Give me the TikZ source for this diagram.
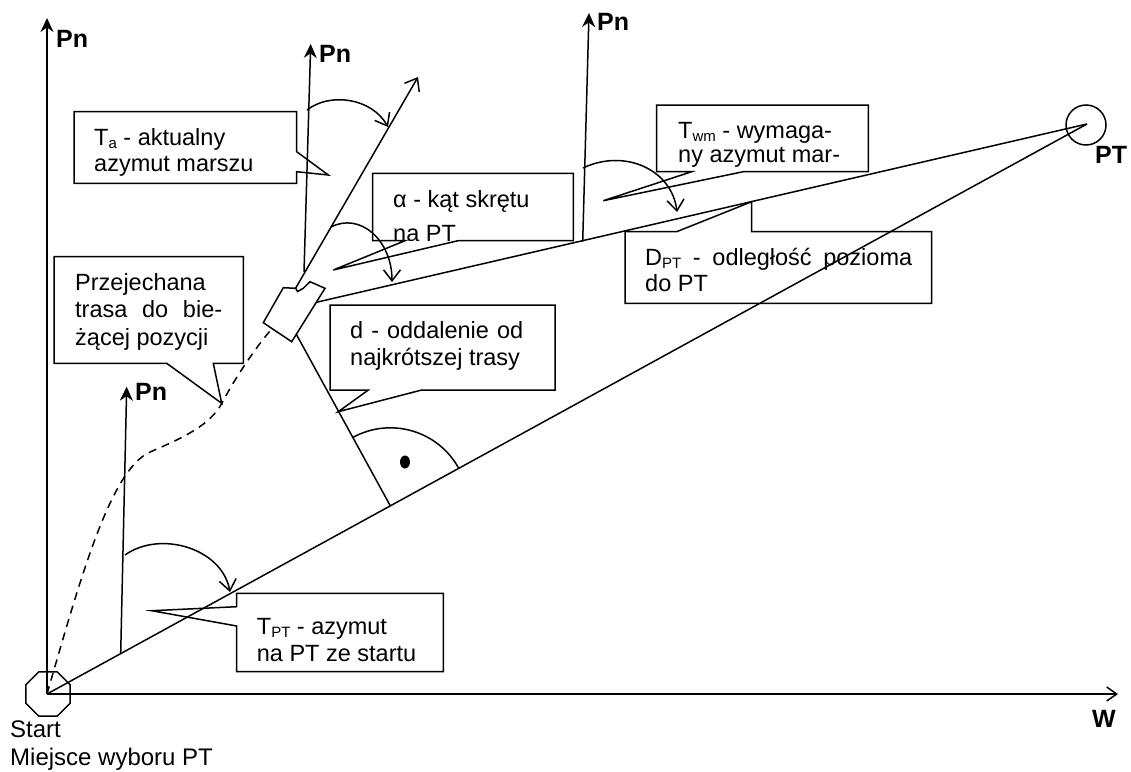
\documentclass[tikz,border=0pt]{standalone}
\usepackage{fontspec}
\setmainfont{Liberation Sans}
\usetikzlibrary{arrows.meta,shapes.geometric}
\newcommand{\sbs}[1]{\raisebox{-0.15em}{\fontsize{15}{15}\selectfont #1}}
\begin{document}
\begin{tikzpicture}[x=1pt,y=-1pt,
  ln/.style={line width=1.5pt},
  pnarrow/.style={ln,-{Stealth[length=14pt,width=13pt]}},
  barb/.style={ln,-{Straight Barb[length=11pt,width=17pt]}},
  callout/.style={line width=1.5pt,line join=miter},
  txt/.style={anchor=base west,inner sep=0pt,font=\fontsize{23.5}{27}\selectfont},
  lbl/.style={anchor=base west,inner sep=0pt,font=\bfseries\fontsize{25}{25}\selectfont}]
\useasboundingbox (0,0) rectangle (1131,771);
% key points
\coordinate (O) at (47,694);
\coordinate (Wend) at (1118,694);
\coordinate (Ytop) at (47,18);
\coordinate (PT) at (1087,124);
\coordinate (V) at (283,310);
\coordinate (F) at (390.3,505.8);
\coordinate (Tatip) at (418,77);
\coordinate (P2b) at (304,272);  \coordinate (P2t) at (310.7,44);
\coordinate (P3b) at (582.7,241.7); \coordinate (P3t) at (589,13);
\coordinate (P4b) at (120.7,653); \coordinate (P4t) at (126.7,386.7);
% axes
\draw[pnarrow] (O) -- (Ytop);
\draw[ln,-{Straight Barb[length=10pt,width=14pt]}] (O) -- (Wend);
% north arrows
\draw[pnarrow] (P2b) -- (P2t);
\draw[pnarrow] (P3b) -- (P3t);
\draw[pnarrow] (P4b) -- (P4t);
% main lines
\draw[ln] (O) -- (PT);
\draw[ln] (V) -- (PT);
\draw[barb] (V) -- (Tatip);
\draw[ln] (V) -- (F);
% travelled route
\draw[ln,dashed,dash pattern=on 8pt off 6pt] (O) .. controls (80,580) and (110,470) .. (150,452)
  .. controls (185,437) and (210,425) .. (222,403)
  .. controls (235,378) and (260,340) .. (280,320);
% vehicle
\draw[callout,fill=white] (263.3,322.7) -- (283.3,287.7) -- (295.7,288.3) -- (297.5,291.5) -- (303.3,288.3) -- (310,281.7) -- (325,288.3) -- (291.7,341.7) -- cycle;
% start and target
\node[draw,ln,regular polygon,regular polygon sides=8,minimum size=48pt,inner sep=0pt] (start) at (48,694) {};
\draw[ln] (PT) ++(-1,1) circle[radius=20];
% angle arcs
\draw[barb] (307,110) .. controls (330,92) and (372,98) .. (388,127);
\draw[barb] (331,227) .. controls (360,212) and (392,240) .. (392,282);
\draw[barb] (583,168) .. controls (625,148) and (672,170) .. (677,212);
\draw[barb] (125,555) .. controls (160,530) and (222,548) .. (230,592);
% right angle
\draw[ln] (352.9,437.4) arc[start angle=-118.7,end angle=-28.7,radius=78];
\fill (405,462) ellipse[x radius=5,y radius=6.5];
% callouts
\draw[callout] (74,111.7) -- (296.7,111.7) -- (296.7,151.7) -- (328.3,175) -- (296.7,171.7) -- (296.7,183.3) -- (74,183.3) -- cycle;
\draw[callout] (372.7,173.3) -- (573.3,173.3) -- (573.3,240.7) -- (458,240.7) -- (333.3,270) -- (405,240.7) -- (372.7,240.7) -- cycle;
\draw[callout] (656.7,105) -- (868.3,105) -- (868.3,171.7) -- (743.3,171.7) -- (603.3,200.7) -- (691.7,171.7) -- (656.7,171.7) -- cycle;
\draw[callout] (625,231.7) -- (676.7,231.7) -- (751.7,201.7) -- (751.7,231.7) -- (931.7,231.7) -- (931.7,303.3) -- (625,303.3) -- cycle;
\draw[callout] (330,305) -- (555,305) -- (555,390) -- (421.7,390) -- (338.3,411.7) -- (368.3,390) -- (330,390) -- cycle;
\draw[callout] (54,256.7) -- (243.3,256.7) -- (243.3,363.3) -- (213.3,363.3) -- (221.7,403.3) -- (166.7,363.3) -- (54,363.3) -- cycle;
\draw[callout] (236.7,593.3) -- (443.3,593.3) -- (443.3,671.7) -- (236.7,671.7) -- (236.7,626) -- (151.7,610.7) -- (236.7,606.7) -- cycle;
% callout texts
\node[txt] (ta1) at (94,145) {T\sbs{a} - aktualny};
\node[txt] (ta2) at (94,171.7) {azymut marszu};
\node[txt] (al1) at (393,207) {α - kąt skrętu};
\begin{scope}
\clip (372.7,173.3) rectangle (573.3,240);
\node[txt] (al2) at (393,241) {na PT};
\end{scope}
\node[txt] (tw1) at (678,138.3) {T\sbs{wm} - wymaga-};
\node[txt] (tw2) at (678,162) {ny azymut mar-};
\node[txt] (dp1) at (645,265) {\makebox[267pt][s]{D\sbs{PT} - odległość pozioma}};
\node[txt] (dp2) at (645,291.7) {do PT};
\node[txt] (dd1) at (350,338.3) {\makebox[173pt][s]{d - oddalenie od}};
\node[txt] (dd2) at (350,365) {najkrótszej trasy};
\node[txt] (pr1) at (75,290) {Przejechana};
\node[txt] (pr2) at (75,317.5) {\makebox[147pt][s]{trasa do bie-}};
\node[txt] (pr3) at (75,345) {żącej pozycji};
\node[txt] (tp1) at (256.7,634) {T\sbs{PT} - azymut};
\node[txt] (tp2) at (256.7,661) {na PT ze startu};
% labels
\node[lbl] (pn1) at (56,47) {Pn};
\node[lbl] (pn2) at (319,62) {Pn};
\node[lbl] (pn3) at (597,30) {Pn};
\node[lbl] (pn4) at (135,400) {Pn};
\node[lbl] (ptl) at (1095,163) {PT};
\node[lbl] (wl) at (1092,727) {W};
\node[txt,font=\fontsize{24}{27}\selectfont] (st1) at (10,737) {Start};
\node[txt,font=\fontsize{24}{27}\selectfont] (st2) at (10,765) {Miejsce wyboru PT};
\end{tikzpicture}
\end{document}
